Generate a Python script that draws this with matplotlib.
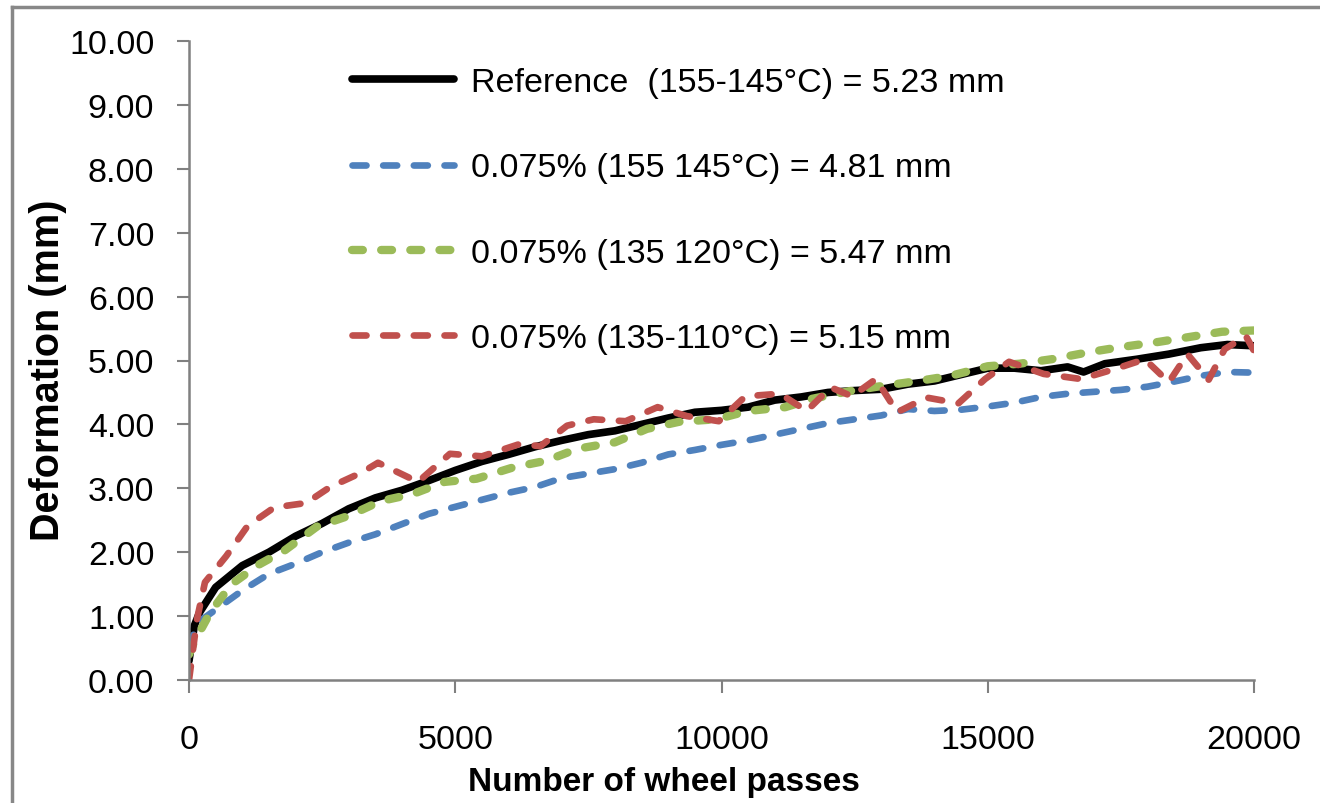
import matplotlib
matplotlib.use("Agg")
import matplotlib.pyplot as plt
from matplotlib.lines import Line2D

plt.rcParams['font.family'] = ['Liberation Sans', 'DejaVu Sans']

# ---- data ----
ref_x = [0, 100, 200, 500, 1000, 1500, 2000, 2500, 3000, 3500, 4000, 4500, 5000, 5500,
         6000, 6500, 7000, 7500, 8000, 8500, 9000, 9500, 10000, 10500, 11000, 11500,
         12000, 12500, 13000, 13500, 14000, 14500, 15000, 15500, 16000, 16500, 16800,
         17200, 17800, 18400, 19000, 19500, 20000]
ref_y = [0.3, 0.85, 1.06, 1.45, 1.79, 2.0, 2.25, 2.45, 2.68, 2.85, 2.97, 3.12, 3.28, 3.42,
         3.53, 3.65, 3.75, 3.84, 3.9, 4.0, 4.1, 4.19, 4.22, 4.27, 4.38, 4.43,
         4.5, 4.53, 4.55, 4.63, 4.68, 4.78, 4.88, 4.88, 4.84, 4.9, 4.82,
         4.95, 5.02, 5.1, 5.2, 5.25, 5.23]

blue_x = [0, 100, 250, 500, 1000, 1500, 2000, 2500, 3000, 3500, 4000, 4500, 5000, 5500,
          6000, 6500, 7000, 7500, 8000, 8500, 9000, 9500, 10000, 10500, 11000, 11500,
          12000, 12500, 13000, 13500, 14000, 14500, 15000, 15500, 16000, 16500, 17000,
          17500, 18000, 18500, 19000, 19500, 20000]
blue_y = [0.5, 0.75, 0.95, 1.1, 1.4, 1.66, 1.82, 2.0, 2.15, 2.28, 2.44, 2.6, 2.71, 2.82,
          2.93, 3.02, 3.16, 3.23, 3.3, 3.4, 3.53, 3.6, 3.68, 3.75, 3.84, 3.93,
          4.02, 4.08, 4.14, 4.24, 4.21, 4.23, 4.28, 4.34, 4.43, 4.48, 4.51,
          4.54, 4.59, 4.67, 4.76, 4.82, 4.81]

green_x = [0, 100, 400, 800, 1300, 1800, 2400, 3000, 3600, 4200, 4800, 5400, 6100, 6700,
           7300, 8000, 8600, 9200, 9900, 10500, 11200, 11700, 12400, 13000, 13700, 14300,
           15000, 15600, 16200, 16900, 17500, 18200, 18800, 19400, 20000]
green_y = [0.4, 0.6, 1.06, 1.5, 1.8, 2.03, 2.4, 2.57, 2.8, 2.91, 3.1, 3.15, 3.33, 3.43,
           3.62, 3.72, 3.93, 4.04, 4.08, 4.21, 4.27, 4.4, 4.52, 4.6, 4.68, 4.76,
           4.91, 4.95, 5.02, 5.13, 5.21, 5.29, 5.37, 5.45, 5.47]

red_x = [0, 150, 300, 700, 1100, 1600, 2200, 2650, 3250, 3550, 3800, 4300, 4900, 5500,
         6200, 6600, 7100, 7600, 8200, 8800, 9350, 9950, 10450, 11100, 11600, 12050,
         12450, 12900, 13300, 13850, 14450, 14950, 15400, 16050, 16750, 17400, 17950,
         18400, 18750, 19150, 19450, 19850, 20000]
red_y = [0.0, 0.95, 1.53, 1.94, 2.41, 2.7, 2.77, 3.02, 3.25, 3.4, 3.3, 3.1, 3.54, 3.5,
         3.69, 3.66, 3.98, 4.08, 4.05, 4.27, 4.13, 4.05, 4.44, 4.48, 4.21, 4.58,
         4.44, 4.71, 4.19, 4.42, 4.33, 4.71, 4.98, 4.79, 4.71, 4.87, 5.02,
         4.66, 5.1, 4.7, 5.18, 5.38, 5.15]

labels = ["Reference  (155-145\u00b0C) = 5.23 mm",
          "0.075% (155 145\u00b0C) = 4.81 mm",
          "0.075% (135 120\u00b0C) = 5.47 mm",
          "0.075% (135-110\u00b0C) = 5.15 mm"]
x_ticks = [0, 5000, 10000, 15000, 20000]
y_ticks = [0, 1, 2, 3, 4, 5, 6, 7, 8, 9, 10]
x_title = "Number of wheel passes"
y_title = "Deformation (mm)"

# ---- figure ----
W, H = 1320, 804
fig = plt.figure(figsize=(W / 100, H / 100), dpi=100)
ax = fig.add_axes([189 / W, 1 - 681 / H, (1254 - 189) / W, (681 - 42) / H])

ax.plot(ref_x, ref_y, color='black', lw=5.5, solid_capstyle='round',
        solid_joinstyle='round', label=labels[0])
ax.plot(blue_x, blue_y, color='#4F81BD', lw=4.8, dashes=(2.1, 2.5),
        dash_capstyle='round', label=labels[1])
ax.plot(green_x, green_y, color='#9BBB59', lw=6.0, dashes=(1.3, 2.2),
        dash_capstyle='round', label=labels[2])
ax.plot(red_x, red_y, color='#C0504D', lw=4.8, dashes=(2.1, 2.5),
        dash_capstyle='round', label=labels[3])

ax.set_xlim(0, 20000)
ax.set_ylim(0, 10)
ax.set_xticks(x_ticks)
ax.set_xticklabels([str(v) for v in x_ticks])
ax.set_yticks(y_ticks)
ax.set_yticklabels([f"{v:.2f}" for v in y_ticks])

for s in ['top', 'right']:
    ax.spines[s].set_visible(False)
for s in ['left', 'bottom']:
    ax.spines[s].set_color('#808080')
    ax.spines[s].set_linewidth(1.8)
ax.tick_params(axis='both', direction='out', length=9, width=1.5, color='#808080',
               labelsize=24.5, labelcolor='black')
ax.tick_params(axis='x', pad=23)
ax.tick_params(axis='y', pad=16)

fig.text(664 / W, 1 - 783 / H, x_title, ha='center', va='center',
         fontsize=24, fontweight='bold')
fig.text(48 / W, 1 - 370 / H, y_title, ha='center', va='center', rotation=90,
         fontsize=28.5, fontweight='bold')

leg = ax.legend(loc='upper left', bbox_to_anchor=(352 / W, 1 - 68 / H),
                bbox_transform=fig.transFigure, frameon=False, fontsize=24.5,
                handlelength=3.0, handletextpad=0.5, labelspacing=1.6,
                borderpad=0, borderaxespad=0)

# outer frame
fig.add_artist(Line2D([12 / W, 1], [1 - 8 / H, 1 - 8 / H], transform=fig.transFigure,
                      color='#888888', lw=2.5))
fig.add_artist(Line2D([12 / W, 12 / W], [0, 1 - 8 / H], transform=fig.transFigure,
                      color='#888888', lw=2.5))

fig.savefig("out.png", dpi=100)
